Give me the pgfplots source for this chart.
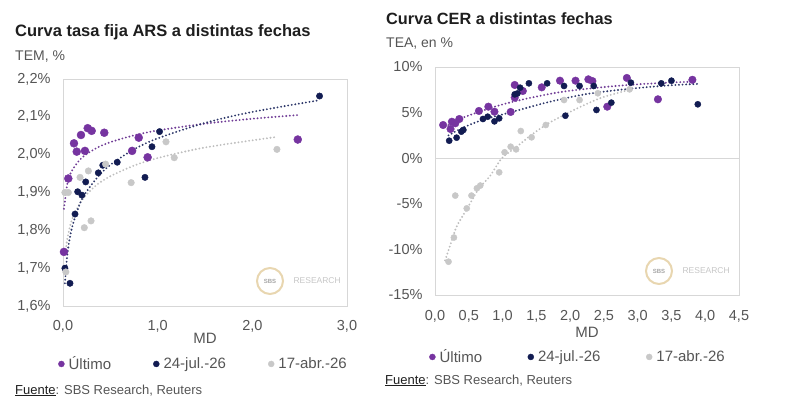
\documentclass[border=0pt]{standalone}
\usepackage{pgfplots}
\pgfplotsset{compat=1.18}
\usepackage{fontspec}
\setmainfont{Liberation Sans}
\definecolor{cpur}{RGB}{118,52,160}
\definecolor{cnav}{RGB}{18,28,82}
\definecolor{cgry}{RGB}{200,200,200}
\definecolor{tpur}{RGB}{112,60,150}
\definecolor{tnav}{RGB}{45,55,105}
\definecolor{tgry}{RGB}{190,190,190}
\definecolor{cframe}{RGB}{215,215,215}
\definecolor{ctext}{RGB}{85,85,85}
\definecolor{ctitle}{RGB}{30,30,30}
\definecolor{cgold}{RGB}{232,214,176}
\newcommand{\fs}[1]{\fontsize{#1}{#1}\selectfont}
\pgfplotsset{
  sbs/.style={
    scale only axis,
    axis line style={cframe, line width=1pt},
    tick style={draw=none},
    clip=false,
    tick label style={font=\fs{14.5}, text=ctext},
    yticklabel style={xshift=-9pt},
    xlabel style={font=\fs{15}, text=ctext},
    legend style={draw=none, fill=none, font=\fs{15}, text=ctext,
      legend columns=3, legend cell align=left,
      nodes={inner sep=1.5pt}},
    legend image code/.code={\path (-0.5pt,0pt) (8pt,0pt); \fill[##1] (2.5pt,0pt) circle (3pt);},
  },
  trend/.style={line width=2.1pt, line cap=round, dash pattern=on 0pt off 3.6pt, forget plot, smooth},
}
\begin{document}
\begin{tikzpicture}[x=1pt,y=1pt]
\useasboundingbox (0,0) rectangle (800,408);
% titles
\node[anchor=base west, inner sep=0, text=ctitle] at (15,371) {\fs{16.5}\bfseries Curva tasa fija ARS a distintas fechas};
\node[anchor=base west, inner sep=0, text=ctext] at (15,348) {\fs{14}TEM, \%};
\node[anchor=base west, inner sep=0, text=ctitle] at (386,383) {\fs{16.3}\bfseries Curva CER a distintas fechas};
\node[anchor=base west, inner sep=0, text=ctext] at (386,360) {\fs{14}TEA, en \%};
\node[anchor=base west, inner sep=0, text=ctext] at (15,14) {\fs{13}\textcolor{ctitle}{\underline{Fuente}}: SBS Research, Reuters};
\node[anchor=base west, inner sep=0, text=ctext] at (385,24) {\fs{13}\textcolor{ctitle}{\underline{Fuente}}: SBS Research, Reuters};
% watermarks
\draw[cgold, line width=2pt] (270,127) circle (13);
\node[text=gray!70, font=\fs{6}\bfseries] at (270,127) {SBS};
\node[anchor=west, text=gray!45, font=\fs{8.5}] at (290,127) {RESEARCH};
\draw[cgold, line width=2pt] (659,137) circle (13);
\node[text=gray!70, font=\fs{6}\bfseries] at (659,137) {SBS};
\node[anchor=west, text=gray!45, font=\fs{8.5}] at (679,137) {RESEARCH};

% LEFT
\begin{axis}[sbs, at={(63pt,102pt)}, anchor=south west, width=284pt, height=227pt,
  xmin=0, xmax=3, ymin=1.6, ymax=2.2,
  xtick={0,1,2,3}, xticklabels={{0,0},{1,0},{2,0},{3,0}},
  xticklabel style={yshift=-11pt},
  ytick={1.6,1.7,1.8,1.9,2.0,2.1,2.2},
  yticklabels={{1,6\%},{1,7\%},{1,8\%},{1,9\%},{2,0\%},{2,1\%},{2,2\%}},
  xlabel={MD}, xlabel style={yshift=6pt},
  legend style={at={(0,0)}, anchor=north west, xshift=-8pt, yshift=-47pt,
    /tikz/every even column/.append style={column sep=40.5pt}},
]
\addplot[trend, color=tgry] coordinates {(0.03,1.749) (0.05,1.784) (0.1,1.832) (0.2,1.880) (0.35,1.919) (0.5,1.943) (0.75,1.971) (1.0,1.991) (1.5,2.019) (2.26,2.047)};
\addplot[trend, color=tpur] coordinates {(0.01,1.857) (0.05,1.929) (0.1,1.960) (0.2,1.992) (0.35,2.017) (0.5,2.033) (0.75,2.051) (1.0,2.064) (1.5,2.082) (2.0,2.095) (2.5,2.105)};
\addplot[trend, color=tnav] coordinates {(0.02,1.660) (0.05,1.745) (0.1,1.812) (0.2,1.882) (0.35,1.936) (0.5,1.973) (0.75,2.014) (1.0,2.043) (1.5,2.084) (2.0,2.113) (2.71,2.144)};
\addplot[only marks, mark=*, mark size=4pt, color=cpur] coordinates {
(0.01,1.743) (0.056,1.937) (0.116,2.030) (0.145,2.008) (0.19,2.052) (0.232,2.010) (0.261,2.070) (0.303,2.063) (0.436,2.058) (0.73,2.010) (0.80,2.045) (0.894,1.993) (2.48,2.040)};
\addlegendentry{Último}
\addplot[only marks, mark=*, mark size=3.2pt, color=cnav] coordinates {
(0.02,1.70) (0.074,1.66) (0.127,1.843) (0.155,1.902) (0.2,1.893) (0.24,1.928) (0.373,1.952) (0.42,1.972) (0.573,1.980) (0.866,1.940) (0.94,2.021) (1.02,2.061) (2.71,2.155)};
\addlegendentry{24-jul.-26}
\addplot[only marks, mark=*, mark size=3.3pt, color=cgry] coordinates {
(0.02,1.90) (0.03,1.69) (0.056,1.90) (0.18,1.94) (0.225,1.807) (0.268,1.957) (0.296,1.825) (0.45,1.975) (0.72,1.926) (1.088,2.034) (1.175,1.992) (2.26,2.014)};
\addlegendentry{17-abr.-26}
\end{axis}

% RIGHT
\begin{axis}[sbs, at={(435pt,113pt)}, anchor=south west, width=304pt, height=228pt,
  xmin=0, xmax=4.5, ymin=-15, ymax=10,
  xtick={0,0.5,1,1.5,2,2.5,3,3.5,4,4.5},
  xticklabels={{0,0},{0,5},{1,0},{1,5},{2,0},{2,5},{3,0},{3,5},{4,0},{4,5}},
  xticklabel style={yshift=-12pt},
  ytick={-15,-10,-5,0,5,10},
  yticklabels={-15\%,-10\%,-5\%,0\%,5\%,10\%},
  xlabel={MD}, xlabel style={yshift=2pt},
  legend style={at={(0,0)}, anchor=north west, xshift=-9pt, yshift=-51pt,
    /tikz/every even column/.append style={column sep=44pt}},
]
\addplot[cframe, line width=1pt, forget plot] coordinates {(0,0) (4.5,0)};
\addplot[trend, color=tgry] coordinates {(0.15,-11.2) (0.25,-9.0) (0.32,-7.5) (0.42,-6.2) (0.52,-4.95) (0.65,-3.3) (0.81,-2.0) (0.99,0.0) (1.2,1.2) (1.4,2.4) (1.65,3.7) (1.9,4.7) (2.2,5.8) (2.49,6.7) (2.88,7.5)};
\addplot[trend, color=tpur] coordinates {(0.15,3.45) (0.4,4.4) (0.7,5.2) (1.0,5.9) (1.4,6.6) (1.9,7.3) (2.5,7.8) (3.0,8.1) (3.5,8.3) (3.85,8.4)};
\addplot[trend, color=tnav] coordinates {(0.2,2.5) (0.4,3.3) (0.7,4.2) (1.0,4.8) (1.3,5.4) (1.65,6.1) (2.14,6.9) (2.5,7.3) (3.0,7.7) (3.5,8.0) (3.9,8.15)};
\addplot[only marks, mark=*, mark size=3.8pt, color=cpur] coordinates {
(0.12,3.64) (0.23,3.2) (0.25,4.0) (0.30,3.83) (0.36,4.30) (0.65,5.18) (0.79,5.65) (0.88,5.10) (1.12,5.07) (1.18,8.03) (1.18,6.64) (1.30,7.37) (1.58,7.77) (1.85,8.50) (2.08,8.50) (2.27,8.65) (2.33,8.46) (2.55,5.65) (2.84,8.80) (3.30,6.46) (3.81,8.60)};
\addlegendentry{Último}
\addplot[only marks, mark=*, mark size=3.1pt, color=cnav] coordinates {
(0.21,1.92) (0.32,2.25) (0.39,2.91) (0.42,3.1) (0.71,4.30) (0.78,4.55) (0.88,4.04) (0.95,4.37) (1.18,7.0) (1.22,7.1) (1.26,7.73) (1.39,8.21) (1.66,8.21) (1.91,7.92) (1.93,4.66) (2.14,7.92) (2.35,7.92) (2.39,5.29) (2.61,6.09) (2.9,8.28) (3.35,8.21) (3.5,8.5) (3.89,5.91)};
\addlegendentry{24-jul.-26}
\addplot[only marks, mark=*, mark size=3.1pt, color=cgry] coordinates {
(0.2,-11.35) (0.28,-8.7) (0.3,-4.1) (0.47,-5.5) (0.54,-4.1) (0.62,-3.3) (0.67,-3.0) (0.95,-1.55) (1.03,0.65) (1.12,1.26) (1.2,0.97) (1.27,2.98) (1.43,2.29) (1.64,3.64) (1.91,6.38) (2.14,6.38) (2.41,7.12) (2.88,7.55)};
\addlegendentry{17-abr.-26}
\end{axis}
\end{tikzpicture}
\end{document}
